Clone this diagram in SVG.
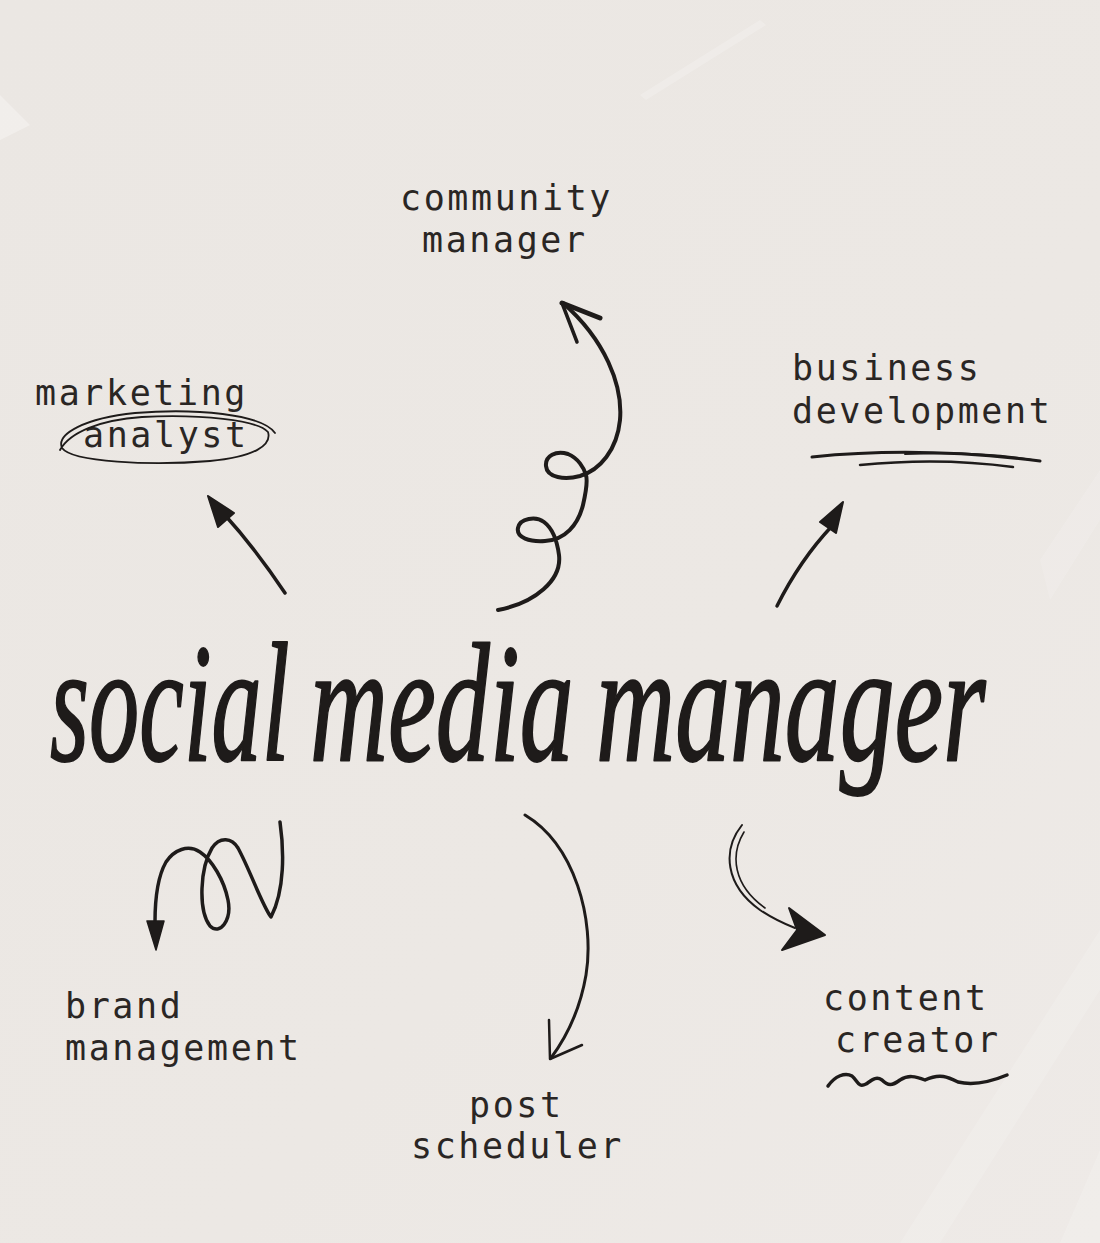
<svg xmlns="http://www.w3.org/2000/svg" width="1100" height="1243" viewBox="0 0 1100 1243">
<defs>
<linearGradient id="bg" x1="0" y1="0" x2="1" y2="1">
<stop offset="0" stop-color="#ebe7e3"/>
<stop offset="0.6" stop-color="#ece8e4"/>
<stop offset="1" stop-color="#eeeae7"/>
</linearGradient>
<style>
.lbl{font-family:"DejaVu Sans Mono","Liberation Mono",monospace;font-size:35px;letter-spacing:2.6px;fill:#2a2624}
.title{font-family:"Liberation Serif","Times New Roman",serif;font-style:italic;font-weight:normal;font-size:170px;fill:#1e1b1a;stroke:#1e1b1a;stroke-width:2px;stroke-linejoin:round}
.ink{fill:none;stroke:#1e1b1a;stroke-linecap:round;stroke-linejoin:round}
.head{fill:#1e1b1a;stroke:#1e1b1a;stroke-linejoin:round}
.streak{fill:#ffffff}
</style>
</defs>
<rect width="1100" height="1243" fill="url(#bg)"/>
<g id="texture">
<path class="streak" opacity="0.3" d="M0,95 L30,125 L0,140 Z"/>
<path class="streak" opacity="0.2" d="M640,95 L760,20 L766,25 L646,100 Z"/>
<path class="streak" opacity="0.12" d="M1040,560 L1100,470 L1100,520 L1050,600 Z"/>
<path class="streak" opacity="0.15" d="M900,1243 L1100,930 L1100,990 L940,1243 Z"/>
<path class="streak" opacity="0.15" d="M1060,1243 L1100,1150 L1100,1243 Z"/>
</g>
<g id="title">
<text class="title" transform="translate(50,760) scale(0.59,1)" x="0" y="0">social</text>
<text class="title" transform="translate(310,760) scale(0.635,1)" x="0" y="0">media</text>
<text class="title" transform="translate(596,760) scale(0.645,1)" x="0" y="0">manager</text>
</g>
<g id="node-community-manager">
<text class="lbl" x="400" y="210">community</text>
<text class="lbl" x="422" y="252">manager</text>
</g>
<g id="node-marketing-analyst">
<text class="lbl" x="35" y="405">marketing</text>
<text class="lbl" x="83" y="447">analyst</text>
<path class="ink" stroke-width="1.8" d="M275,433 C262,414 195,408 135,413 C85,418 56,434 62,448 C72,462 150,466 210,461 C255,457 272,445 268,432 C258,420 200,414 142,417 C100,420 70,432 60,450"/>
</g>
<g id="node-business-development">
<text class="lbl" x="792" y="380">business</text>
<text class="lbl" x="792" y="423">development</text>
<path class="ink" stroke-width="3" d="M812,457 Q920,446 1040,461"/>
<path class="ink" stroke-width="2.5" d="M860,465 Q940,457 1013,467"/>
<path class="ink" stroke-width="2" d="M905,454 Q980,451 1032,460"/>
</g>
<g id="node-brand-management">
<text class="lbl" x="65" y="1018">brand</text>
<text class="lbl" x="65" y="1060">management</text>
</g>
<g id="node-post-scheduler">
<text class="lbl" x="469" y="1117">post</text>
<text class="lbl" x="411" y="1158">scheduler</text>
</g>
<g id="node-content-creator">
<text class="lbl" x="823" y="1010">content</text>
<text class="lbl" x="835" y="1052">creator</text>
<path class="ink" stroke-width="3.5" d="M828,1086 C835,1076 845,1072 852,1076 C858,1081 858,1088 866,1084 C872,1080 876,1076 882,1080 C888,1086 892,1086 900,1080 C908,1075 915,1076 925,1080 C940,1073 948,1077 958,1082 C975,1086 995,1080 1007,1075"/>
</g>
<g id="connectors">
<path class="ink" stroke-width="4" d="M498,610 C535,603 562,580 559,555 C557,540 552,528 544,522 C536,516 520,518 518,528 C516,538 530,542 545,541 C565,540 578,525 583,505 C586,492 588,482 586,475 C584,468 578,458 568,454 C556,450 545,456 546,466 C547,478 565,480 580,476 C600,470 617,450 620,420 C623,385 605,340 563,303"/>
<path class="ink" stroke-width="5" d="M600,318 L562,303"/>
<path class="ink" stroke-width="3.5" d="M562,303 L577,342"/>
<path class="ink" stroke-width="3.5" d="M285,593 Q255,548 224,514"/>
<path class="head" stroke-width="2" d="M208,496 L234,513 L218,527 Z"/>
<path class="ink" stroke-width="3.5" d="M777,606 Q800,560 832,526"/>
<path class="head" stroke-width="2" d="M843,502 L836,533 L820,522 Z"/>
<path class="ink" stroke-width="3.5" d="M280,822 C284,850 285,890 271,917 C262,905 250,870 238,848 C232,838 220,836 212,848 C200,868 198,910 210,926 C220,936 232,920 228,900 C224,880 212,860 200,852 C188,844 174,850 166,862 C158,876 155,900 155,922"/>
<path class="head" stroke-width="1.5" d="M147,921 L164,921 L156,950 Z"/>
<path class="ink" stroke-width="3" d="M525,815 C575,845 595,920 586,975 C580,1010 568,1035 551,1058"/>
<path class="ink" stroke-width="2.5" d="M549,1020 L550,1059 L582,1045"/>
<path class="ink" stroke-width="2" d="M742,825 C722,850 725,885 760,910 C772,918 782,923 795,928"/>
<path class="ink" stroke-width="1.6" d="M744,832 C730,855 733,885 765,908"/>
<path class="head" stroke-width="2" d="M825,935 L789,908 L797,930 L782,950 Z"/>
</g>
</svg>
